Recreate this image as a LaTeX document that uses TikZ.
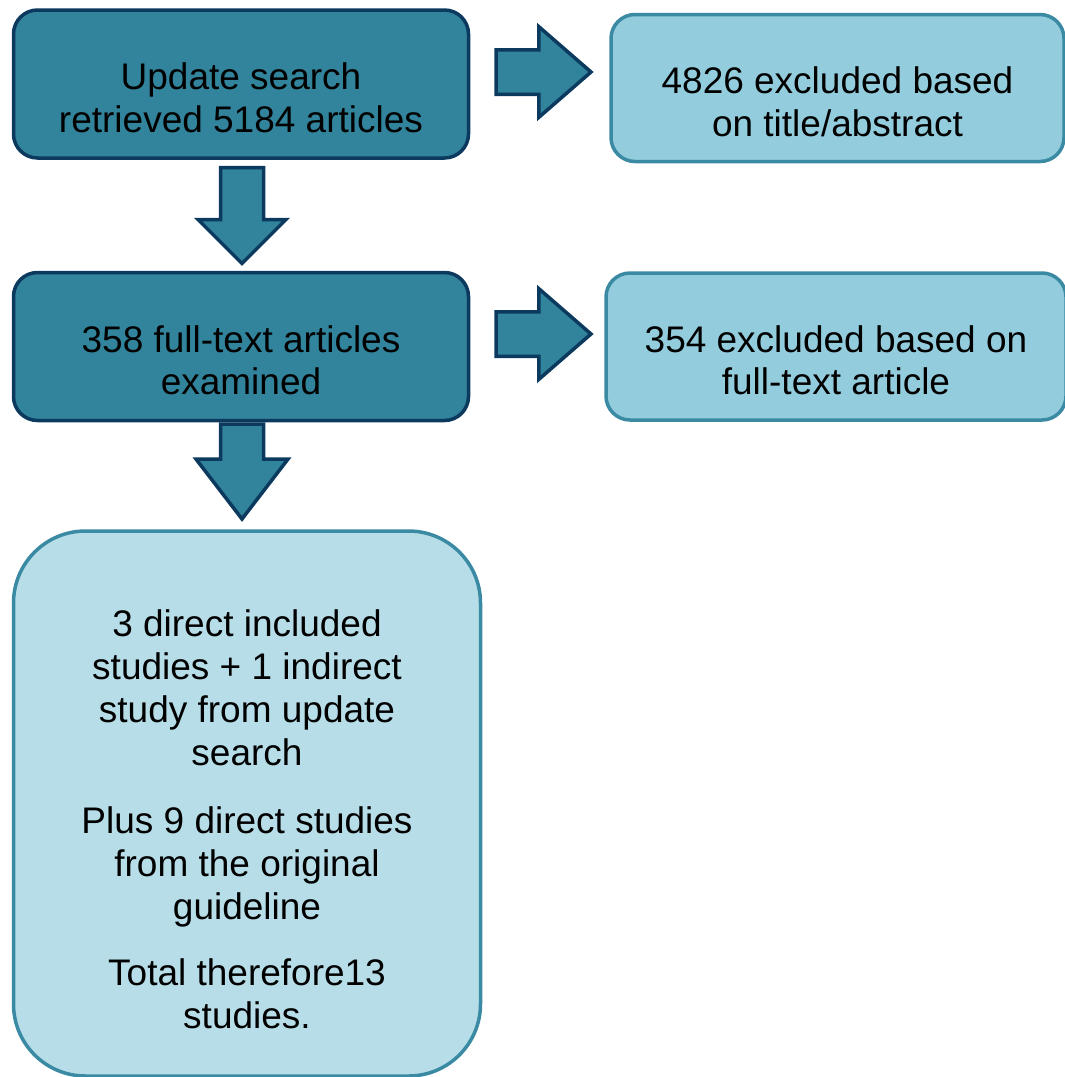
\documentclass[tikz,border=0pt]{standalone}
\usepackage{fontspec}
\setmainfont{Liberation Sans}
\usetikzlibrary{positioning}
\usetikzlibrary{shapes.arrows}

\definecolor{darkteal}{HTML}{31849B}
\definecolor{navyline}{HTML}{0B3A5E}
\definecolor{lightteal}{HTML}{93CDDD}
\definecolor{paleteal}{HTML}{B7DEE8}
\definecolor{tealline}{HTML}{3B8AA4}

\begin{document}
\begin{tikzpicture}
    [x=1pt, y=-1pt,
     darkbox/.style={draw=navyline, fill=darkteal, line width=3.5pt, rounded corners=24pt, minimum width=455pt, minimum height=148pt},
     lightbox/.style={draw=tealline, fill=lightteal, line width=3.5pt, rounded corners=24pt, minimum height=147pt},
     boxtext/.style={align=center, inner sep=0pt, font=\fontsize{37}{42.5}\selectfont},
     blockarrow/.style={single arrow, draw=navyline, fill=darkteal, line width=3.5pt, inner sep=20.5pt, anchor=tail}]
    \useasboundingbox (0,0) rectangle (1065,1077);
    \node[darkbox] (search) at (241,84) {};
    \node[lightbox, minimum width=453pt] (title) [right =139pt of search, yshift=-4pt] {};
    \node[darkbox] (fulltext) [below =111pt of search] {};
    \node[lightbox, minimum width=460pt] (exclfull) [right =134pt of fulltext] {};
    \node[lightbox, fill=paleteal, rounded corners=72pt, minimum width=467pt, minimum height=545pt] (included) [below =107pt of fulltext, xshift=6pt] {};

    \node[boxtext] (searchtxt) at ([yshift=-14pt]search.center) {Update search\\retrieved 5184 articles};
    \node[boxtext] (titletxt) at ([yshift=-14pt]title.center) {4826 excluded based\\on title/abstract};
    \node[boxtext] (fulltexttxt) at ([yshift=-14pt]fulltext.center) {358 full-text articles\\examined};
    \node[boxtext] (exclfulltxt) at ([yshift=-14pt]exclfull.center) {354 excluded based on\\full-text article};
    \node[boxtext, font=\fontsize{37}{43}\selectfont] (includedtxt) at ([yshift=-16pt]included.center)
      {3 direct included\\studies + 1 indirect\\study from update\\search\\[25pt]Plus 9 direct studies\\from the original\\guideline\\[23pt]Total therefore13\\studies.};

    \node[blockarrow, minimum height=95pt, single arrow head extend=23pt, single arrow tip angle=82] (arrowa) at ([xshift=24pt, yshift=12pt]search.east) {};
    \node[blockarrow, minimum height=95pt, single arrow head extend=23pt, single arrow tip angle=82] (arrowb) at ([xshift=24pt, yshift=12.5pt]fulltext.east) {};
    \node[blockarrow, shape border rotate=270, inner sep=19.75pt, minimum height=96pt, single arrow head extend=22.5pt, single arrow tip angle=90] (arrowc) at ([xshift=1pt, yshift=-6pt]search.south) {};
    \node[blockarrow, shape border rotate=270, inner sep=19.75pt, minimum height=95pt, single arrow head extend=24.5pt, single arrow tip angle=75] (arrowd) at ([xshift=1pt]fulltext.south) {};
\end{tikzpicture}
\end{document}
